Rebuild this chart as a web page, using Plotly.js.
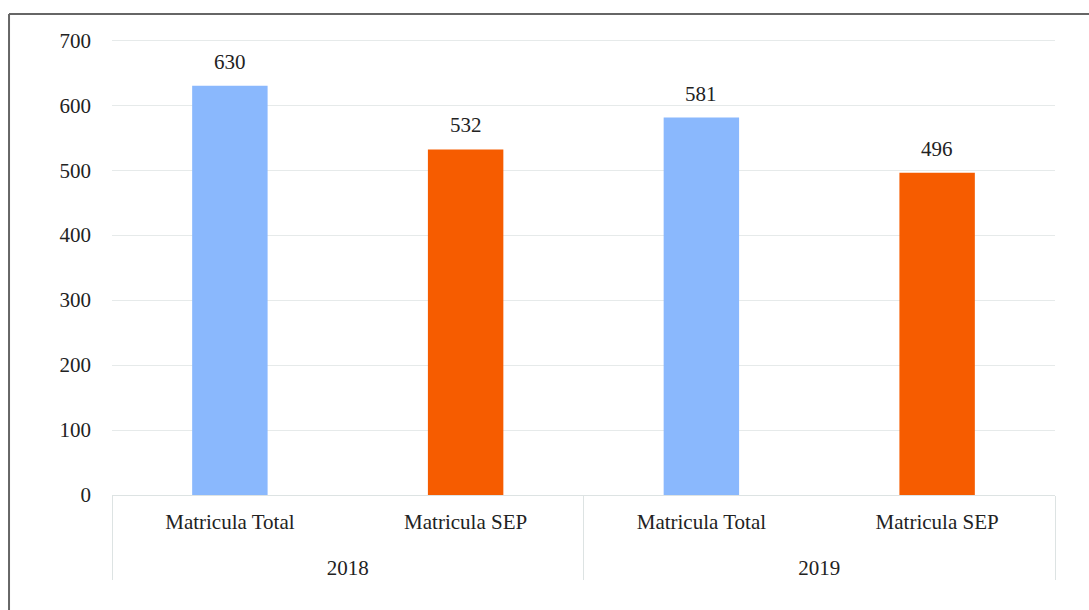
<!DOCTYPE html>
<html>
<head>
<meta charset="utf-8">
<script src="https://cdn.plot.ly/plotly-3.0.1.min.js"></script>
<style>
  body { margin: 0; background: #fff; }
  #myPlot { width: 1089px; height: 610px; }
</style>
</head>
<body>
<div id="myPlot"></div>
<script>
var years = ["2018", "2018", "2019", "2019"];
var groups = ["Matricula Total", "Matricula SEP", "Matricula Total", "Matricula SEP"];
var values = [630, 532, 581, 496];
var barColors = ["#8ab8fd", "#f65c00", "#8ab8fd", "#f65c00"];

// push the year row a line further down, like the original
var yearLabels = years.map(function (y) { return "<br>" + y; });

var data = [{
    type: "bar",
    x: [yearLabels, groups],
    y: values,
    marker: {color: barColors},
    width: 0.32,
    hoverinfo: "y"
}];

// value labels sit a bit higher than plotly's outside text
var notes = values.map(function (v, i) {
    return {
        x: i, xref: "x", y: v, yref: "y",
        text: String(v), showarrow: false,
        yanchor: "bottom", yshift: 10,
        font: {family: "Liberation Serif", size: 21, color: "#222"}
    };
});

var layout = {
    width: 1089, height: 610,
    margin: {l: 112, r: 34, t: 37, b: 115},
    paper_bgcolor: "#fff", plot_bgcolor: "#fff",
    font: {family: "Liberation Serif", size: 21, color: "#222"},
    showlegend: false,
    bargap: 0.68,
    xaxis: {
        type: "multicategory",
        showline: true, linecolor: "#dde3e3", linewidth: 1,
        showdividers: true, dividercolor: "#dde3e3", dividerwidth: 1,
        ticklabelstandoff: 8,
        tickfont: {family: "Liberation Serif", size: 21, color: "#222"},
        ticks: "", showgrid: false
    },
    yaxis: {
        range: [0, 705], tickvals: [0, 100, 200, 300, 400, 500, 600, 700],
        gridcolor: "#e6eaea", gridwidth: 1,
        zeroline: false, showline: false,
        ticklabelstandoff: 20,
        tickfont: {family: "Liberation Serif", size: 21, color: "#222"}
    },
    annotations: notes,
    shapes: [
        {type: "line", xref: "paper", yref: "paper", x0: -0.1092, x1: 1.06, y0: 1.05, y1: 1.05,
         line: {color: "#666", width: 2}},
        {type: "line", xref: "paper", yref: "paper", x0: -0.1092, x1: -0.1092, y0: 1.05, y1: -0.3,
         line: {color: "#666", width: 2}}
    ]
};

Plotly.newPlot("myPlot", data, layout, {displayModeBar: false});
</script>
</body>
</html>
